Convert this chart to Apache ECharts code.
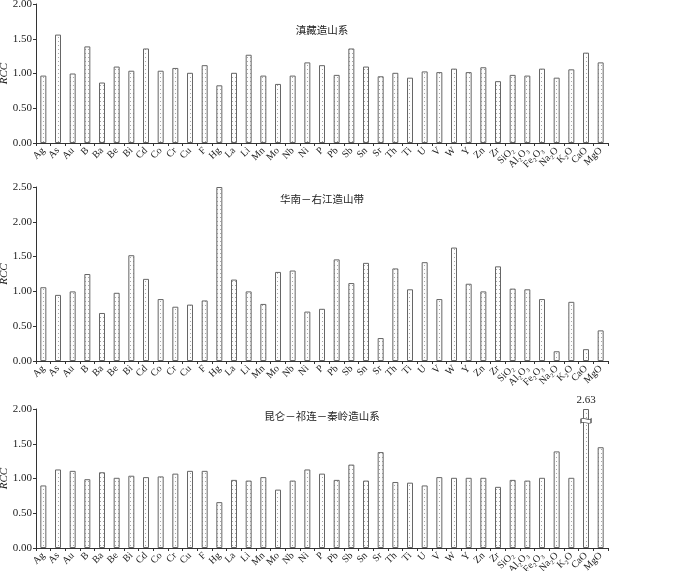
<!DOCTYPE html>
<html>
<head>
<meta charset="utf-8">
<script src="https://cdn.jsdelivr.net/npm/echarts@6/dist/echarts.min.js"></script>
<style>html,body{margin:0;padding:0;background:#fff;}#main{width:700px;height:571px;}</style>
</head>
<body>
<div id="main"></div>
<script>
const categories = ['Ag','As','Au','B','Ba','Be','Bi','Cd','Co','Cr','Cu','F','Hg','La','Li','Mn','Mo','Nb','Ni','P','Pb','Sb','Sn','Sr','Th','Ti','U','V','W','Y','Zn','Zr','SiO₂','Al₂O₃','Fe₂O₃','Na₂O','K₂O','CaO','MgO'];
const panelTitles = ['滇藏造山系','华南－右江造山带','昆仑－祁连－秦岭造山系'];
const valuesDianzang = [0.97,1.56,1.00,1.39,0.87,1.10,1.04,1.36,1.04,1.08,1.01,1.12,0.83,1.01,1.27,0.97,0.85,0.97,1.16,1.12,0.98,1.36,1.10,0.96,1.01,0.94,1.03,1.02,1.07,1.02,1.09,0.89,0.98,0.97,1.07,0.94,1.06,1.30,1.16];
const valuesHuanan = [1.06,0.95,1.00,1.25,0.69,0.98,1.52,1.18,0.89,0.78,0.81,0.87,2.50,1.17,1.00,0.82,1.28,1.30,0.71,0.75,1.46,1.12,1.41,0.33,1.33,1.03,1.42,0.89,1.63,1.11,1.00,1.36,1.04,1.03,0.89,0.14,0.85,0.17,0.44];
const valuesKunlun = [0.90,1.13,1.11,0.99,1.09,1.01,1.04,1.02,1.03,1.07,1.11,1.11,0.66,0.98,0.97,1.02,0.84,0.97,1.13,1.07,0.98,1.20,0.97,1.38,0.95,0.94,0.90,1.02,1.01,1.01,1.01,0.88,0.98,0.97,1.01,1.39,1.01,2.63,1.45];
const yMaxes = [2.0, 2.5, 2.0];
const breakLevel = 1.83;

// dotted fill pattern
const pc = document.createElement('canvas');
pc.width = 3; pc.height = 4;
const pctx = pc.getContext('2d');
pctx.fillStyle = '#fdfdfd'; pctx.fillRect(0,0,3,4);
pctx.fillStyle = '#a8a8a8'; pctx.fillRect(1,1,1,1);

const serif = '"Liberation Serif", "Times New Roman", serif';
const cjk = '"Noto Sans CJK SC", sans-serif';

const grids = [
  {left:36, width:572, top:4, height:139, outerBoundsMode:'none', containLabel:false},
  {left:36, width:572, top:187, height:174, outerBoundsMode:'none', containLabel:false},
  {left:36, width:572, top:409, height:139, outerBoundsMode:'none', containLabel:false}
];
const allValues = [valuesDianzang, valuesHuanan, valuesKunlun];
const titleTops = [25, 194, 411];

const option = {
  animation:false,
  backgroundColor:'#fff',
  title: panelTitles.map((t,i)=>({text:t, left:322, top:titleTops[i], textAlign:'center', padding:0,
    textStyle:{fontFamily:cjk, fontSize:10.5, fontWeight:'normal', color:'#222'}})),
  grid: grids,
  xAxis: grids.map((g,i)=>({
    type:'category', gridIndex:i, data:categories, boundaryGap:true,
    axisLine:{lineStyle:{color:'#333', width:1}},
    axisTick:{show:true, length:3, lineStyle:{color:'#333'}},
    axisLabel:{rotate:45, interval:0, fontFamily:serif, fontSize:10, color:'#222', margin:6}
  })),
  yAxis: grids.map((g,i)=>({
    type:'value', gridIndex:i, min:0, max:yMaxes[i], interval:0.5,
    name:'RCC', nameLocation:'middle', nameGap:26, nameMoveOverlap:false,
    nameTextStyle:{fontFamily:serif, fontStyle:'italic', fontSize:11, color:'#222'},
    axisLine:{show:true, lineStyle:{color:'#333', width:1}},
    axisTick:{show:true, length:3, lineStyle:{color:'#333'}},
    splitLine:{show:false},
    axisLabel:{formatter:v=>v.toFixed(2), fontFamily:serif, fontSize:11, color:'#222', margin:4}
  })),
  series: allValues.map((vals,i)=>({
    type:'bar', xAxisIndex:i, yAxisIndex:i, barWidth:6,
    itemStyle:{color:{image:pc, repeat:'repeat'}, borderColor:'#666', borderWidth:1},
    data: vals.map(v => v > yMaxes[i] ? {value:yMaxes[i], label:{show:true, position:'top', distance:3,
      formatter:()=>v.toFixed(2), fontFamily:serif, fontSize:11, color:'#222'}} : v),
    markPoint: vals.some(v=>v>yMaxes[i]) ? {
      symbol:'path://M0,2 C3,0 7,4 10,2 L10,6 C7,8 3,4 0,6 Z',
      symbolSize:[10,5],
      itemStyle:{color:'#fff', borderColor:'#555', borderWidth:1},
      label:{show:false},
      data: vals.map((v,k)=>v>yMaxes[i] ? {coord:[categories[k], breakLevel]} : null).filter(Boolean)
    } : undefined
  }))
};
const chart = echarts.init(document.getElementById('main'), null, {renderer:'canvas'});
chart.setOption(option);
</script>
</body>
</html>
